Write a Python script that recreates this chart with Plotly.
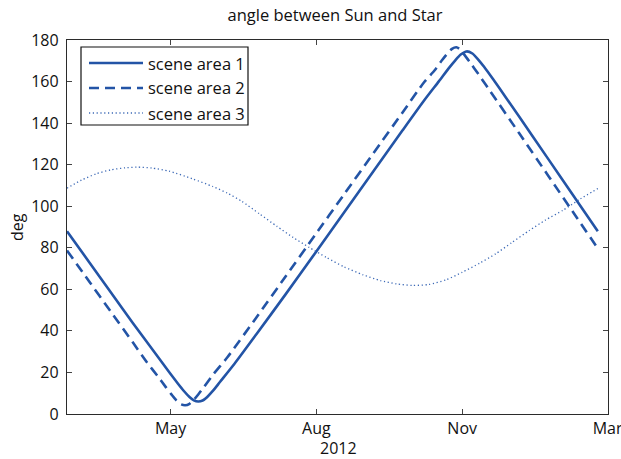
import plotly.graph_objects as go

# ---- data ----
dates_area1 = ["2012-03-01","2012-03-16","2012-03-31","2012-04-15","2012-04-30","2012-05-10",
               "2012-05-16","2012-05-20","2012-05-24","2012-05-27","2012-05-30","2012-06-02",
               "2012-06-05","2012-06-09","2012-06-14","2012-06-24","2012-07-09","2012-07-29",
               "2012-08-18","2012-09-07","2012-09-27","2012-10-17","2012-11-01","2012-11-11",
               "2012-11-18","2012-11-22","2012-11-26","2012-11-30","2012-12-04","2012-12-08",
               "2012-12-12","2012-12-18","2012-12-26","2013-01-15","2013-02-04","2013-02-28"]
angle_area1 = [88.0, 73.3, 58.6, 43.9, 29.7, 20.2,
               14.7, 11.2, 8.2, 6.6, 6.0, 6.5,
               8.1, 11.1, 15.5, 24.3, 38.5, 57.7,
               77.3, 97.0, 116.7, 136.4, 151.0, 160.1,
               166.6, 170.0, 173.0, 174.5, 173.5, 170.6,
               167.1, 161.3, 153.3, 133.0, 112.5, 88.0]

dates_area2 = ["2012-03-01","2012-03-16","2012-03-31","2012-04-15","2012-04-25","2012-05-02",
               "2012-05-08","2012-05-12","2012-05-15","2012-05-18","2012-05-21","2012-05-24",
               "2012-05-27","2012-05-30","2012-06-03","2012-06-09","2012-06-19","2012-07-09",
               "2012-07-29","2012-08-18","2012-09-07","2012-09-27","2012-10-17","2012-11-01",
               "2012-11-08","2012-11-13","2012-11-17","2012-11-20","2012-11-23","2012-11-25",
               "2012-11-28","2012-12-02","2012-12-08","2012-12-16","2013-01-05","2013-01-25",
               "2013-02-14","2013-02-28"]
angle_area2 = [78.7, 64.0, 49.3, 34.6, 24.7, 18.4,
               12.7, 9.1, 6.6, 4.7, 4.2, 4.9,
               6.9, 9.4, 13.1, 18.8, 27.3, 46.6,
               66.3, 86.0, 105.7, 125.4, 145.0, 159.8,
               165.3, 170.1, 173.6, 175.7, 176.5, 175.8,
               173.3, 169.6, 163.7, 155.6, 135.2, 114.7,
               94.1, 79.7]

dates_area3 = ["2012-03-01","2012-03-11","2012-03-21","2012-03-31","2012-04-10","2012-04-18",
               "2012-04-28","2012-05-10","2012-05-26","2012-06-09","2012-06-19","2012-06-29",
               "2012-07-11","2012-07-23","2012-08-03","2012-08-14","2012-08-26","2012-09-07",
               "2012-09-20","2012-10-02","2012-10-13","2012-10-24","2012-11-04","2012-11-16",
               "2012-11-27","2012-12-09","2012-12-20","2012-12-31","2013-01-12","2013-01-23",
               "2013-02-04","2013-02-16","2013-02-28"]
angle_area3 = [108.7, 112.6, 115.6, 117.5, 118.5, 118.8,
               118.4, 116.9, 113.2, 109.5, 106.3, 102.3,
               96.3, 90.3, 85.0, 80.2, 75.3, 70.8,
               67.0, 64.2, 62.6, 61.9, 62.3, 64.6,
               68.2, 72.6, 77.1, 82.5, 88.3, 93.3,
               98.0, 103.5, 108.5]

series_names = ["scene area 1", "scene area 2", "scene area 3"]
tick_dates = ["2012-05-11", "2012-08-19", "2012-11-27", "2013-03-06 18:00"]
tick_labels = ["May", "Aug", "Nov", "Mar"]
y_ticks = [0, 20, 40, 60, 80, 100, 120, 140, 160, 180]

BLUE = "#2354A6"
BLUE3 = "#3C69B6"
FONT = "Open Sans"
TXT = "#111111"
FS = 16

styles = [
    dict(color=BLUE, width=2.6, dash="solid"),
    dict(color=BLUE, width=2.6, dash="10px,6px"),
    dict(color=BLUE3, width=1.3, dash="1.2px,2.6px"),
]
xs = [dates_area1, dates_area2, dates_area3]
ys = [angle_area1, angle_area2, angle_area3]

fig = go.Figure()
for name, x, y, st in zip(series_names, xs, ys, styles):
    fig.add_trace(go.Scatter(x=x, y=y, mode="lines", name=name, showlegend=False,
                             line=dict(st, shape="spline", smoothing=0.6)))

axis_common = dict(showline=True, linecolor="#2b2b2b", linewidth=1.4, mirror="allticks",
                   ticks="inside", ticklen=5, tickcolor="#444", tickwidth=1,
                   showgrid=False, zeroline=False, automargin=False,
                   tickfont=dict(family=FONT, size=FS, color=TXT))

W, H = 621, 459
L, R, T, B = 67, 13, 40, 45
pw, ph = W - L - R, H - T - B


def px(xp):
    return (xp - L) / pw


def py(yp):
    return (H - B - yp) / ph


# legend drawn as a boxed key in the upper left
shapes = [dict(type="rect", xref="paper", yref="paper", x0=px(81), x1=px(248), y0=py(125), y1=py(47),
               line=dict(color="#111", width=1.2), fillcolor="white", layer="above")]
annotations = []
rows = [63, 88, 113]
for name, st, ry in zip(series_names, styles, rows):
    shapes.append(dict(type="line", xref="paper", yref="paper", x0=px(89), x1=px(143),
                       y0=py(ry), y1=py(ry), layer="above",
                       line=dict(color=st["color"], width=st["width"], dash=st["dash"])))
    annotations.append(dict(text=name, xref="paper", yref="paper", x=px(146), y=py(ry),
                            xanchor="left", yanchor="middle", showarrow=False,
                            font=dict(family=FONT, size=16.5, color=TXT)))

annotations.append(dict(text="2012", xref="paper", yref="paper", x=px(338), y=py(448),
                        xanchor="center", yanchor="middle", showarrow=False,
                        font=dict(family=FONT, size=FS, color=TXT)))
annotations.append(dict(text="deg", xref="paper", yref="paper", x=px(17), y=py(227),
                        xanchor="center", yanchor="middle", showarrow=False, textangle=-90,
                        font=dict(family=FONT, size=FS, color=TXT)))

fig.update_layout(
    width=W, height=H,
    margin=dict(l=L, r=R, t=T, b=B),
    paper_bgcolor="white", plot_bgcolor="white",
    title=dict(text="angle between Sun and Star", x=px(335), xref="paper", xanchor="center",
               y=1 - 15 / H, yref="container", yanchor="middle",
               font=dict(family=FONT, size=16.5, color=TXT)),
    xaxis=dict(axis_common, type="date", range=["2012-03-01", "2013-03-07"],
               tickmode="array", tickvals=tick_dates, ticktext=tick_labels,
               ticklabelstandoff=0, ticklabeloverflow="allow"),
    yaxis=dict(axis_common, range=[0, 180], tickmode="array", tickvals=y_ticks,
               ticklabelstandoff=4),
    shapes=shapes,
    annotations=annotations,
    showlegend=False,
)

fig.write_html("out.html", config={"displayModeBar": False},
               post_script="document.body.style.margin='0px';document.body.style.overflow='hidden';")
